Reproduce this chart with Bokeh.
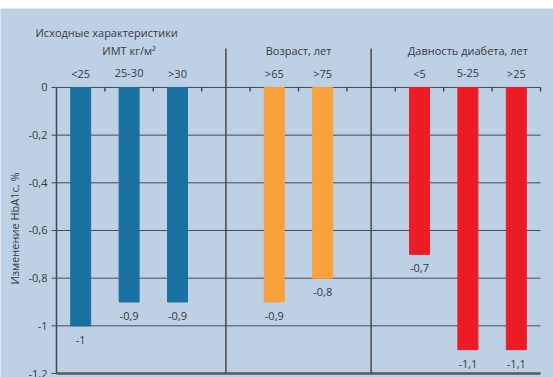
import math
from bokeh.plotting import figure
from bokeh.models import Range1d, ColumnDataSource
from bokeh.core.properties import value
from bokeh.embed import file_html
from bokeh.resources import INLINE

# ---- data ----
title_text = "Исходные характеристики"
y_axis_title = "Изменение HbA1c, %"
group_names = ["ИМТ кг/м²", "Возраст, лет", "Давность диабета, лет"]
bmi_labels = ["<25", "25-30", ">30"]
bmi_values = [-1.0, -0.9, -0.9]
age_labels = [">65", ">75"]
age_values = [-0.9, -0.8]
duration_labels = ["<5", "5-25", ">25"]
duration_values = [-0.7, -1.1, -1.1]
y_ticks = [0, -0.2, -0.4, -0.6, -0.8, -1.0, -1.2]
y_tick_labels = ["0", "-0,2", "-0,4", "-0,6", "-0,8", "-1", "-1,2"]
group_colors = ["#1A72A2", "#F9A13B", "#ED1C24"]

groups = [
    (group_names[0], bmi_labels, bmi_values, group_colors[0]),
    (group_names[1], age_labels, age_values, group_colors[1]),
    (group_names[2], duration_labels, duration_values, group_colors[2]),
]

FONT = "Open Sans"
TEXT = "#3a3a3a"
LINE = "#4a4a4a"
BG = "#BDD0E4"
PX = 238.4   # pixels per data unit (y)
SX = 48.4    # pixels per slot (x)

# ---- layout of slots ----
xs, ys, cols, cats, vlabels = [], [], [], [], []
group_centers, separators = [], []
slot = 0
for gi, (gname, labels, vals, col) in enumerate(groups):
    centers = [slot + i + 0.5 for i in range(len(labels))]
    xs += centers
    ys += vals
    cols += [col] * len(vals)
    cats += labels
    vlabels += [("%g" % v).replace(".", ",") for v in vals]
    group_centers.append(sum(centers) / len(centers))
    slot += len(labels)
    if gi < len(groups) - 1:
        separators.append(slot + 0.5)
        slot += 1
n_slots = slot

y_top = 79 / PX
y_bottom = y_ticks[-1] - 4 / PX
x_start = -56 / SX
x_end = n_slots + 13 / SX

p = figure(width=553, height=369, output_backend="svg", toolbar_location=None,
           x_range=Range1d(x_start, x_end), y_range=Range1d(y_bottom, y_top),
           min_border_left=0, min_border_right=0, min_border_top=0, min_border_bottom=0,
           x_axis_location=None, y_axis_location=None, margin=(8, 0, 0, 0))
p.background_fill_color = BG
p.border_fill_color = BG
p.outline_line_color = None
p.grid.visible = False

# horizontal grid lines
n_t = len(y_ticks)
p.segment(x0=[0] * n_t, y0=y_ticks, x1=[n_slots] * n_t, y1=y_ticks, line_color=LINE, line_width=1)

# bars
src = ColumnDataSource(dict(x=xs, top=ys, color=cols, cat=cats, vl=vlabels))
p.vbar(x="x", top="top", bottom=0, width=0.413, color="color", source=src)

# left axis line, ticks, labels
p.segment(x0=[0], y0=[y_ticks[0]], x1=[0], y1=[y_ticks[-1]], line_color=LINE, line_width=1.5)
p.segment(x0=[0] * n_t, y0=y_ticks, x1=[-5 / SX] * n_t, y1=y_ticks, line_color=LINE, line_width=1)
p.text(x=[-9 / SX] * n_t, y=y_ticks, text=y_tick_labels, text_font=value(FONT),
       text_font_size="11px", text_align="right", text_baseline="middle", text_color=TEXT)

# thicker bottom line
p.segment(x0=[0], y0=[y_ticks[-1]], x1=[n_slots], y1=[y_ticks[-1]], line_color="#5a5a5a", line_width=2.5)

# tick marks on the zero line at slot boundaries
bounds = list(range(1, n_slots + 1))
p.segment(x0=bounds, y0=[0] * len(bounds), x1=bounds, y1=[-4 / PX] * len(bounds),
          line_color=LINE, line_width=1.5)

# group separators
p.segment(x0=separators, y0=[39 / PX] * len(separators), x1=separators,
          y1=[y_ticks[-1]] * len(separators), line_color=LINE, line_width=1.5)

# category labels and group titles
p.text(x="x", y=14 / PX, text="cat", source=src, text_font=value(FONT),
       text_font_size="11px", text_align="center", text_baseline="middle", text_color=TEXT)
p.text(x=group_centers, y=[37 / PX] * len(group_centers), text=group_names,
       text_font=value(FONT), text_font_size="11px", text_align="center",
       text_baseline="middle", text_color=TEXT)

# value labels
p.text(x="x", y="top", text="vl", source=src, y_offset=14, text_font=value(FONT),
       text_font_size="11px", text_align="center", text_baseline="middle", text_color=TEXT)

# chart title and y axis title
p.text(x=[-21 / SX], y=[55 / PX], text=[title_text], text_font=value(FONT),
       text_font_size="11px", text_color=TEXT, text_baseline="middle", text_align="left")
p.text(x=[-42 / SX], y=[-141 / PX], text=[y_axis_title], text_font=value(FONT),
       text_font_size="11px", text_color=TEXT, text_baseline="middle",
       text_align="center", angle=math.pi / 2)

open("out.html", "w").write(file_html(p, INLINE))
